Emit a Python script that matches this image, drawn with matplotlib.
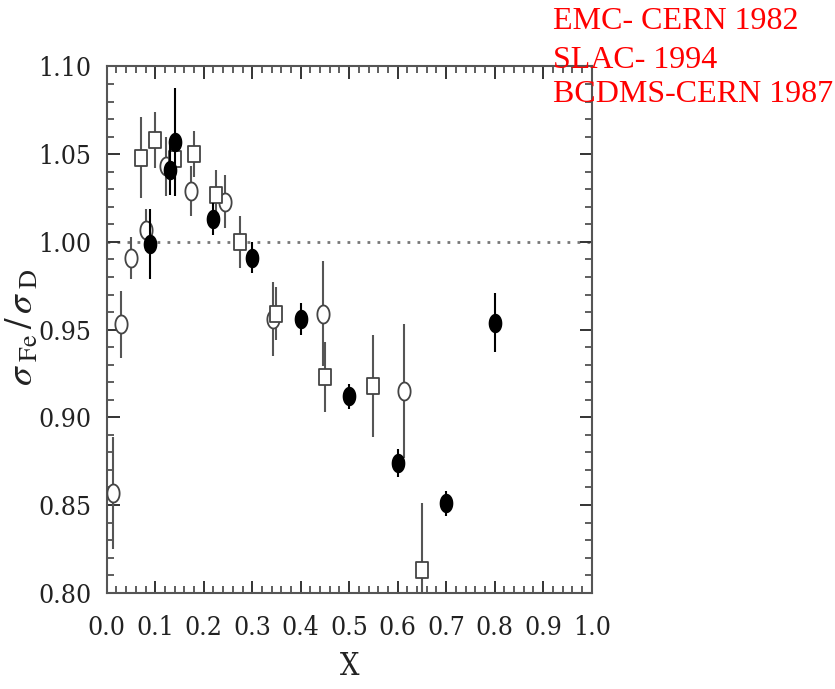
import numpy as np
import matplotlib
matplotlib.use("Agg")
import matplotlib.pyplot as plt
from matplotlib.path import Path
from matplotlib.ticker import MultipleLocator, FormatStrFormatter

# EMC (open circles)
emc_x = [0.013, 0.029, 0.050, 0.080, 0.122, 0.173, 0.243, 0.343, 0.445, 0.612]
emc_y = [0.857, 0.953, 0.991, 1.007, 1.043, 1.029, 1.023, 0.956, 0.959, 0.915]
emc_err = [0.032, 0.019, 0.012, 0.012, 0.017, 0.014, 0.015, 0.021, 0.030, 0.038]

# BCDMS (open squares)
bcdms_x = [0.070, 0.100, 0.140, 0.180, 0.225, 0.275, 0.350, 0.450, 0.550, 0.650]
bcdms_y = [1.048, 1.058, 1.047, 1.050, 1.027, 1.000, 0.959, 0.923, 0.918, 0.813]
bcdms_err = [0.023, 0.016, 0.012, 0.013, 0.014, 0.015, 0.015, 0.020, 0.029, 0.038]

# SLAC (filled circles)
slac_x = [0.089, 0.131, 0.141, 0.220, 0.300, 0.400, 0.500, 0.600, 0.700, 0.800]
slac_y = [0.999, 1.041, 1.057, 1.013, 0.991, 0.956, 0.912, 0.874, 0.851, 0.954]
slac_err = [0.020, 0.014, 0.031, 0.009, 0.009, 0.009, 0.007, 0.008, 0.007, 0.017]

labels = ["EMC- CERN 1982", "SLAC- 1994", "BCDMS-CERN 1987"]

plt.rcParams["mathtext.fontset"] = "stix"

# tall, narrow marker shapes
t = np.linspace(0, 2 * np.pi, 41)
ellipse = Path(np.column_stack([0.68 * np.cos(t), np.sin(t)]), closed=True)
rect = Path([(-0.68, -1), (0.68, -1), (0.68, 1), (-0.68, 1), (-0.68, -1)], closed=True)

fig = plt.figure(figsize=(8.35, 6.89), dpi=100)
ax = fig.add_axes([0.1278, 0.1398, 0.5808, 0.7637])

gray = "#555555"
ax.axhline(1.0, color="#777777", ls=(0, (1, 2.6)), lw=2.0, zorder=1)

ax.errorbar(emc_x, emc_y, yerr=emc_err, fmt="none", ecolor=gray, elinewidth=1.5, zorder=2)
ax.plot(emc_x, emc_y, ls="none", marker=ellipse, ms=13, mfc="white", mec="#444444", mew=1.3, zorder=3)

ax.errorbar(bcdms_x, bcdms_y, yerr=bcdms_err, fmt="none", ecolor=gray, elinewidth=1.5, zorder=2)
ax.plot(bcdms_x, bcdms_y, ls="none", marker=rect, ms=12, mfc="white", mec="#444444", mew=1.3, zorder=3)

ax.errorbar(slac_x, slac_y, yerr=slac_err, fmt="none", ecolor="black", elinewidth=1.5, zorder=4)
ax.plot(slac_x, slac_y, ls="none", marker=ellipse, ms=13, mfc="black", mec="black", mew=1.0, zorder=5)

ax.set_xlim(0, 1.0)
ax.set_ylim(0.80, 1.10)
ax.xaxis.set_major_locator(MultipleLocator(0.1))
ax.xaxis.set_minor_locator(MultipleLocator(0.02))
ax.yaxis.set_major_locator(MultipleLocator(0.05))
ax.yaxis.set_minor_locator(MultipleLocator(0.01))
ax.xaxis.set_major_formatter(FormatStrFormatter("%.1f"))
ax.yaxis.set_major_formatter(FormatStrFormatter("%.2f"))

for s in ax.spines.values():
    s.set_color(gray)
    s.set_linewidth(1.5)

tick_font = dict(family="DejaVu Serif", stretch="condensed", size=19)
ax.tick_params(which="both", direction="in", top=True, right=True, color="#333333")
ax.tick_params(which="major", length=9, width=1.4, pad=11)
ax.tick_params(axis="x", which="major", pad=16)
ax.tick_params(which="minor", length=5, width=1.1)
for lab in ax.get_xticklabels() + ax.get_yticklabels():
    lab.set_fontproperties(matplotlib.font_manager.FontProperties(**tick_font))
    lab.set_color("#222222")

ax.set_xlabel("X", fontdict=dict(tick_font, size=22), color="#222222", labelpad=8)
fig.text(0.027, 0.525, r"$\sigma_{\ \mathrm{Fe}}\,/\,\sigma_{\ \mathrm{D}}$",
         rotation=90, fontsize=27, color="#222222", ha="center", va="center")

ys = [0.9575, 0.9009, 0.8524]
for lab, yy in zip(labels, ys):
    fig.text(0.662, yy, lab, color="red", fontsize=23, family="Liberation Serif", va="baseline")

fig.savefig("out.png", dpi=100)
